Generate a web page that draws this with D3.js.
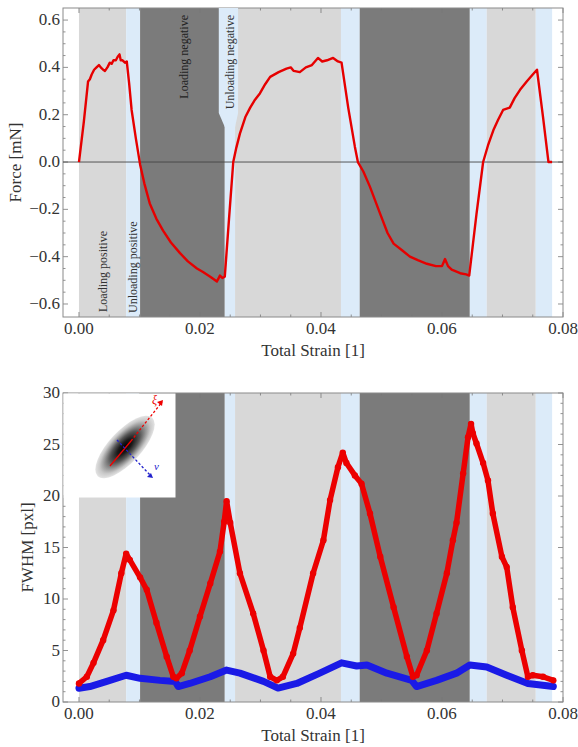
<!DOCTYPE html>
<html>
<head>
<meta charset="utf-8">
<script src="https://cdn.jsdelivr.net/npm/d3@7"></script>
<style>
  body { margin: 0; background: #fff; }
</style>
</head>
<body>
<svg id="fig" width="578" height="747" font-family="'Liberation Serif', 'Times New Roman', 'DejaVu Serif', serif"></svg>
<script>
// phases of the cycle (strain ranges)
const bandStart = [0.0000, 0.0078, 0.0101, 0.0241, 0.0258, 0.0433, 0.0464, 0.0646, 0.0674, 0.0755];
const bandEnd   = [0.0078, 0.0101, 0.0241, 0.0258, 0.0433, 0.0464, 0.0646, 0.0674, 0.0755, 0.0782];
const bandKind  = ["lp", "ul", "ln", "ul", "lp", "ul", "ln", "ul", "lp", "ul"];

// force vs. strain
const forceStrain = [0.0000, 0.0008, 0.0015, 0.0018, 0.0021, 0.0025, 0.0029, 0.0033, 0.0036, 0.0040,
  0.0043, 0.0047, 0.0051, 0.0054, 0.0057, 0.0061, 0.0064, 0.0067, 0.0069, 0.0072, 0.0076, 0.0079,
  0.0083, 0.0087, 0.0094, 0.0101, 0.0108, 0.0117, 0.0128, 0.0139, 0.0152, 0.0167, 0.0180, 0.0195,
  0.0205, 0.0217, 0.0228, 0.0233, 0.0237, 0.0241, 0.0248, 0.0255, 0.0260, 0.0266, 0.0275, 0.0283,
  0.0290, 0.0299, 0.0308, 0.0316, 0.0330, 0.0343, 0.0350, 0.0355, 0.0365, 0.0375, 0.0385, 0.0395,
  0.0402, 0.0410, 0.0420, 0.0428, 0.0434, 0.0445, 0.0456, 0.0461, 0.0470, 0.0481, 0.0498, 0.0510,
  0.0520, 0.0535, 0.0547, 0.0560, 0.0575, 0.0590, 0.0600, 0.0605, 0.0610, 0.0616, 0.0630, 0.0640,
  0.0645, 0.0657, 0.0668, 0.0676, 0.0685, 0.0693, 0.0701, 0.0712, 0.0720, 0.0729, 0.0740, 0.0750,
  0.0757, 0.0767, 0.0776, 0.0782];
const force = [0.00, 0.17, 0.34, 0.35, 0.37, 0.39, 0.40, 0.41, 0.40, 0.39,
  0.385, 0.40, 0.42, 0.415, 0.43, 0.43, 0.445, 0.455, 0.43, 0.43, 0.42, 0.425,
  0.33, 0.22, 0.10, -0.01, -0.09, -0.175, -0.24, -0.29, -0.34, -0.385, -0.42, -0.45,
  -0.465, -0.485, -0.505, -0.48, -0.49, -0.485, -0.24, 0.00, 0.06, 0.12, 0.19, 0.23,
  0.26, 0.29, 0.33, 0.36, 0.38, 0.395, 0.40, 0.385, 0.38, 0.40, 0.41, 0.44,
  0.425, 0.43, 0.44, 0.425, 0.42, 0.23, 0.065, 0.00, -0.04, -0.105, -0.22, -0.30,
  -0.345, -0.375, -0.40, -0.415, -0.43, -0.44, -0.44, -0.41, -0.44, -0.455, -0.47, -0.475,
  -0.48, -0.22, 0.00, 0.07, 0.135, 0.18, 0.22, 0.23, 0.27, 0.305, 0.34, 0.37,
  0.39, 0.19, 0.00, 0.00];

// FWHM along xi (red)
const xiStrain = [0.0000, 0.0013, 0.0024, 0.0040, 0.0057, 0.0070, 0.0078, 0.0084, 0.0101, 0.0112,
  0.0128, 0.0145, 0.0156, 0.0161, 0.0170, 0.0183, 0.0200, 0.0217, 0.0233, 0.0240, 0.0244, 0.0250,
  0.0266, 0.0288, 0.0305, 0.0316, 0.0327, 0.0337, 0.0354, 0.0365, 0.0387, 0.0404, 0.0415, 0.0428,
  0.0436, 0.0442, 0.0456, 0.0467, 0.0481, 0.0498, 0.0520, 0.0542, 0.0552, 0.0558, 0.0575, 0.0591,
  0.0608, 0.0618, 0.0624, 0.0635, 0.0643, 0.0648, 0.0651, 0.0657, 0.0668, 0.0676, 0.0684, 0.0699,
  0.0707, 0.0717, 0.0732, 0.0742, 0.0750, 0.0767, 0.0784];
const xiFwhm = [1.8, 2.45, 3.8, 6.0, 8.9, 12.5, 14.4, 13.8, 12.1, 10.9,
  7.7, 4.4, 2.45, 2.3, 2.8, 5.0, 8.3, 11.5, 14.6, 17.5, 19.5, 17.4,
  12.5, 8.6, 5.0, 2.45, 2.1, 2.45, 4.7, 7.2, 12.5, 15.7, 19.6, 22.8,
  24.2, 23.2, 22.0, 21.2, 18.3, 14.1, 9.2, 4.4, 2.45, 2.6, 5.0, 8.6,
  12.5, 15.7, 17.4, 22.2, 25.7, 27.0, 26.1, 25.1, 23.2, 21.5, 18.3, 14.1,
  13.1, 9.2, 5.0, 2.45, 2.6, 2.45, 2.1];

// FWHM along nu (blue)
const nuStrain = [0.0000, 0.0018, 0.0046, 0.0078, 0.0101, 0.0134, 0.0159, 0.0164, 0.0183, 0.0217,
  0.0244, 0.0266, 0.0305, 0.0329, 0.0360, 0.0398, 0.0434, 0.0459, 0.0476, 0.0509, 0.0550, 0.0558,
  0.0591, 0.0624, 0.0646, 0.0674, 0.0707, 0.0742, 0.0784];
const nuFwhm = [1.33, 1.5, 2.0, 2.6, 2.3, 2.1, 2.0, 1.5, 1.8, 2.45,
  3.1, 2.8, 2.0, 1.35, 1.8, 2.8, 3.8, 3.5, 3.6, 2.8, 2.1, 1.5,
  2.1, 2.8, 3.6, 3.4, 2.6, 1.8, 1.5];

const xTicks = [0, 0.02, 0.04, 0.06, 0.08];
const forceTicks = [-0.6, -0.4, -0.2, 0, 0.2, 0.4, 0.6];
const fwhmTicks = [0, 5, 10, 15, 20, 25, 30];

const bandColor = { lp: "#d8d8d8", ul: "#dcebf9", ln: "#7b7b7b" };
const svg = d3.select("#fig");
const L = 63, R = 563;

function panel(top, bottom, yDomain, yTicks, yMinorStep, yFmt, yLabel, yLabelX) {
  const x = d3.scaleLinear().domain([-0.00264, 0.08]).range([L, R]);
  const y = d3.scaleLinear().domain(yDomain).range([bottom, top]);
  const g = svg.append("g");

  g.append("rect").attr("x", L).attr("y", top).attr("width", R - L).attr("height", bottom - top)
    .attr("fill", "#fff");
  g.selectAll("rect.band").data(bandStart.map((s, i) => ({ s, e: bandEnd[i], k: bandKind[i] })))
    .join("rect").attr("class", "band")
    .attr("x", d => x(d.s)).attr("width", d => x(d.e) - x(d.s))
    .attr("y", top).attr("height", bottom - top)
    .attr("fill", d => bandColor[d.k]);

  // ticks, Mathematica style (inside, all four sides)
  const tk = g.append("g").attr("stroke", "#777").attr("stroke-width", 0.8);
  d3.range(0, 0.0801, 0.005).forEach(v => {
    const major = Math.abs(v / 0.02 - Math.round(v / 0.02)) < 1e-6;
    const len = major ? 5 : 2.5;
    tk.append("line").attr("x1", x(v)).attr("x2", x(v)).attr("y1", bottom).attr("y2", bottom - len);
    tk.append("line").attr("x1", x(v)).attr("x2", x(v)).attr("y1", top).attr("y2", top + len);
  });
  const ys = d3.range(yTicks[0], yTicks[yTicks.length - 1] + 1e-6, yMinorStep);
  const ystep = yTicks[1] - yTicks[0];
  ys.forEach(v => {
    const major = Math.abs((v - yTicks[0]) / ystep - Math.round((v - yTicks[0]) / ystep)) < 1e-6;
    const len = major ? 5 : 2.5;
    tk.append("line").attr("x1", L).attr("x2", L + len).attr("y1", y(v)).attr("y2", y(v));
    tk.append("line").attr("x1", R).attr("x2", R - len).attr("y1", y(v)).attr("y2", y(v));
  });

  g.append("rect").attr("x", L).attr("y", top).attr("width", R - L).attr("height", bottom - top)
    .attr("fill", "none").attr("stroke", "#8a8a8a").attr("stroke-width", 1);

  g.selectAll("text.xt").data(xTicks).join("text").attr("class", "xt")
    .attr("x", d => x(d)).attr("y", bottom + 17).attr("text-anchor", "middle")
    .attr("font-size", 17).attr("fill", "#333").text(d => d3.format(".2f")(d));
  g.selectAll("text.yt").data(yTicks).join("text").attr("class", "yt")
    .attr("x", L - 3).attr("y", d => y(d) + 5).attr("text-anchor", "end")
    .attr("font-size", 17).attr("fill", "#333").text(yFmt);
  g.append("text").attr("x", (L + R) / 2).attr("y", bottom + 39).attr("text-anchor", "middle")
    .attr("font-size", 17).attr("fill", "#333").text("Total Strain [1]");
  g.append("text").attr("transform", `translate(${yLabelX},${(top + bottom) / 2}) rotate(-90)`)
    .attr("text-anchor", "middle").attr("font-size", 17).attr("fill", "#333").text(yLabel);
  return { g, x, y };
}

// ---------- top panel: force ----------
const P1 = panel(8, 317, [-0.655, 0.651], forceTicks, 0.05,
  d => d === 0 ? "0.0" : d3.format(".1f")(d).replace("-", "\u2212"), "Force [mN]", 21);

// widened label background for "Unloading negative"
const ux0 = P1.x(0.0241), ux1 = P1.x(0.0258);
P1.g.append("path")
  .attr("d", `M${ux0 - 6},8 L${ux1 + 3},8 L${ux1 + 3},113 L${ux1},127 L${ux0},127 L${ux0 - 6},113 Z`)
  .attr("fill", bandColor.ul);

P1.g.append("line").attr("x1", L).attr("x2", R).attr("y1", P1.y(0)).attr("y2", P1.y(0))
  .attr("stroke", "#444").attr("stroke-width", 0.9);

P1.g.append("path").datum(forceStrain.map((s, i) => [s, force[i]]))
  .attr("fill", "none").attr("stroke", "#e60000").attr("stroke-width", 2.4)
  .attr("stroke-linejoin", "round")
  .attr("d", d3.line().x(d => P1.x(d[0])).y(d => P1.y(d[1])));

const phaseLabels = [
  { t: "Loading positive", s: 0.0039, y: 312, a: "start", c: "#333" },
  { t: "Unloading positive", s: 0.0090, y: 313, a: "start", c: "#333" },
  { t: "Loading negative", s: 0.0174, y: 15, a: "end", c: "#222" },
  { t: "Unloading negative", s: 0.0249, y: 15, a: "end", c: "#333" }
];
P1.g.selectAll("text.ph").data(phaseLabels).join("text").attr("class", "ph")
  .attr("transform", d => `translate(${P1.x(d.s) + 4},${d.y}) rotate(-90)`)
  .attr("text-anchor", d => d.a).attr("font-size", 12).attr("fill", d => d.c).text(d => d.t);

// ---------- bottom panel: FWHM ----------
const P2 = panel(393, 702, [0, 30], fwhmTicks, 1, d => d, "FWHM [pxl]", 33);

const nuLine = d3.line().x(d => P2.x(d[0])).y(d => P2.y(d[1]));
P2.g.append("path").datum(nuStrain.map((s, i) => [s, nuFwhm[i]]))
  .attr("fill", "none").attr("stroke", "#1a1ae6").attr("stroke-width", 7)
  .attr("stroke-linejoin", "round").attr("stroke-linecap", "round").attr("d", nuLine);
P2.g.append("path").datum(xiStrain.map((s, i) => [s, xiFwhm[i]]))
  .attr("fill", "none").attr("stroke", "#ec0000").attr("stroke-width", 5.5)
  .attr("stroke-linejoin", "round").attr("stroke-linecap", "round").attr("d", nuLine);
P2.g.selectAll("circle.xi").data(xiStrain.map((s, i) => [s, xiFwhm[i]])).join("circle")
  .attr("class", "xi").attr("cx", d => P2.x(d[0])).attr("cy", d => P2.y(d[1])).attr("r", 3.2)
  .attr("fill", "#ec0000");

// inset: peak shape with principal axes
const inset = P2.g.append("g");
inset.append("rect").attr("x", L + 0.5).attr("y", 393.5).attr("width", 112).attr("height", 104)
  .attr("fill", "#fff");
const defs = svg.append("defs");
const rg = defs.append("radialGradient").attr("id", "peak");
[[0, "#000"], [0.25, "#1a1a1a"], [0.5, "#555"], [0.7, "#999"], [0.85, "#c8c8c8"], [1, "#e4e4e4"]]
  .forEach(([o, c]) => rg.append("stop").attr("offset", o).attr("stop-color", c));
const cx = 125, cy = 447;
inset.append("ellipse").attr("cx", 0).attr("cy", 0).attr("rx", 40).attr("ry", 16)
  .attr("transform", `translate(${cx},${cy}) rotate(-47)`).attr("fill", "url(#peak)");
inset.append("line").attr("x1", 110).attr("y1", 466).attr("x2", cx + 6).attr("y2", cy - 6)
  .attr("stroke", "#e00").attr("stroke-width", 1.3);
inset.append("line").attr("x1", cx + 6).attr("y1", cy - 6).attr("x2", 162).attr("y2", 402)
  .attr("stroke", "#e00").attr("stroke-width", 1.3).attr("stroke-dasharray", "2.5,2");
inset.append("path").attr("d", "M163,400 l-1,6 l-5,-4 Z").attr("fill", "#e00");
inset.append("text").attr("x", 152).attr("y", 404).attr("font-size", 12).attr("font-style", "italic")
  .attr("fill", "#e00").text("\u03be");
inset.append("line").attr("x1", 117).attr("y1", 440).attr("x2", 150).attr("y2", 475)
  .attr("stroke", "#22c").attr("stroke-width", 1.3).attr("stroke-dasharray", "2.5,2");
inset.append("path").attr("d", "M153,478 l-6,-1 l4,-4 Z").attr("fill", "#22c");
inset.append("text").attr("x", 154).attr("y", 470).attr("font-size", 11).attr("font-style", "italic")
  .attr("fill", "#22c").text("\u03bd");
</script>
</body>
</html>
